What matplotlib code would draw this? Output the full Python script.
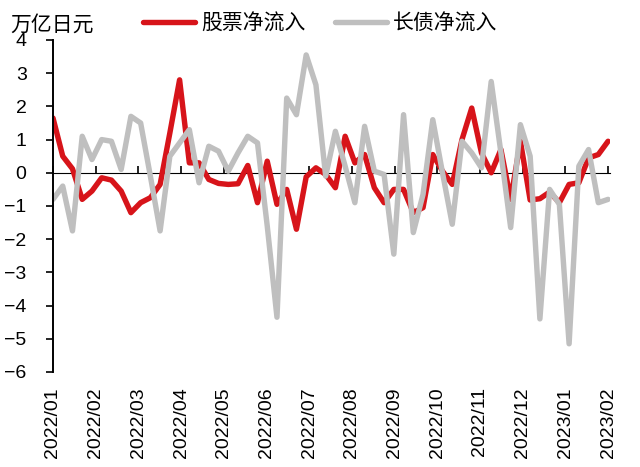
import numpy as np
import matplotlib
matplotlib.use("Agg")
import matplotlib.pyplot as plt

plt.rcParams['font.family'] = ['Liberation Sans', 'Noto Sans CJK SC', 'DejaVu Sans']

# 周度数据（万亿日元）
stock_flow = [1.65, 0.5, 0.12, -0.8, -0.55, -0.15, -0.22, -0.55, -1.2, -0.9,
              -0.75, -0.35, 1.2, 2.8, 0.3, 0.3, -0.2, -0.32, -0.35, -0.33,
              0.22, -0.9, 0.35, -0.95, -0.5, -1.7, -0.12, 0.15, -0.05, -0.45,
              1.1, 0.3, 0.55, -0.45, -0.9, -0.5, -0.5, -1.2, -1.05, 0.55,
              0.05, -0.35, 1.0, 1.95, 0.6, 0.0, 0.7, -0.8, 0.95, -0.82,
              -0.78, -0.58, -0.9, -0.35, -0.3, 0.45, 0.55, 0.95]
bond_flow = [-0.8, -0.4, -1.75, 1.1, 0.4, 1.0, 0.95, 0.1, 1.7, 1.5,
             -0.1, -1.75, 0.5, 0.9, 1.3, -0.3, 0.8, 0.65, 0.05, 0.6,
             1.1, 0.9, -1.6, -4.35, 2.25, 1.75, 3.55, 2.65, -0.1, 1.25,
             0.2, -0.9, 1.4, 0.05, -0.05, -2.45, 1.75, -1.8, -0.65, 1.6,
             0.0, -1.55, 0.95, 0.6, 0.15, 2.75, 0.6, -1.65, 1.45, 0.5,
             -4.4, -0.5, -0.95, -5.15, 0.2, 0.7, -0.9, -0.8]
month_labels = ['2022/01', '2022/02', '2022/03', '2022/04', '2022/05', '2022/06',
                '2022/07', '2022/08', '2022/09', '2022/10', '2022/11', '2022/12',
                '2023/01', '2023/02']

x = np.arange(len(stock_flow))
tick_pos = np.linspace(0, len(stock_flow) - 1, len(month_labels))

fig = plt.figure(figsize=(6.4, 4.67), dpi=100)
ax = fig.add_axes([53 / 640, 1 - 372 / 467, 557 / 640, 332 / 467])

ax.plot(x, stock_flow, color='#D7141A', lw=3.9, label='股票净流入',
        solid_joinstyle='round', solid_capstyle='round')
ax.plot(x, bond_flow, color='#BFBFBF', lw=3.9, label='长债净流入',
        solid_joinstyle='round', solid_capstyle='round')

ax.set_xlim(0, len(stock_flow) - 0.8)
ax.set_ylim(-6, 4)
ax.set_yticks(range(-6, 5))
ax.tick_params(axis='y', direction='out', length=5, width=1.2, labelsize=14, pad=14)

# x轴标签放在底部，刻度画在零轴上
ax.set_xticks(tick_pos)
ax.set_xticklabels(month_labels, rotation=90, fontsize=14)
ax.tick_params(axis='x', length=0, pad=11)

for s in ['top', 'right', 'bottom']:
    ax.spines[s].set_visible(False)
ax.spines['left'].set_linewidth(1.4)

zero_ax = ax.secondary_xaxis(0.6)
zero_ax.set_xticks(tick_pos)
zero_ax.set_xticklabels([])
zero_ax.tick_params(direction='out', length=5, width=1.2)
zero_ax.spines['bottom'].set_linewidth(1.4)

fig.text(0.016, 0.948, '万亿日元', fontsize=15, va='center', ha='left')
fig.legend(loc='center', bbox_to_anchor=(0.5, 0.95), ncol=2, frameon=False,
           fontsize=15, handlelength=2.5, handletextpad=0.3, columnspacing=1.4)

fig.savefig('out.png', dpi=100)
